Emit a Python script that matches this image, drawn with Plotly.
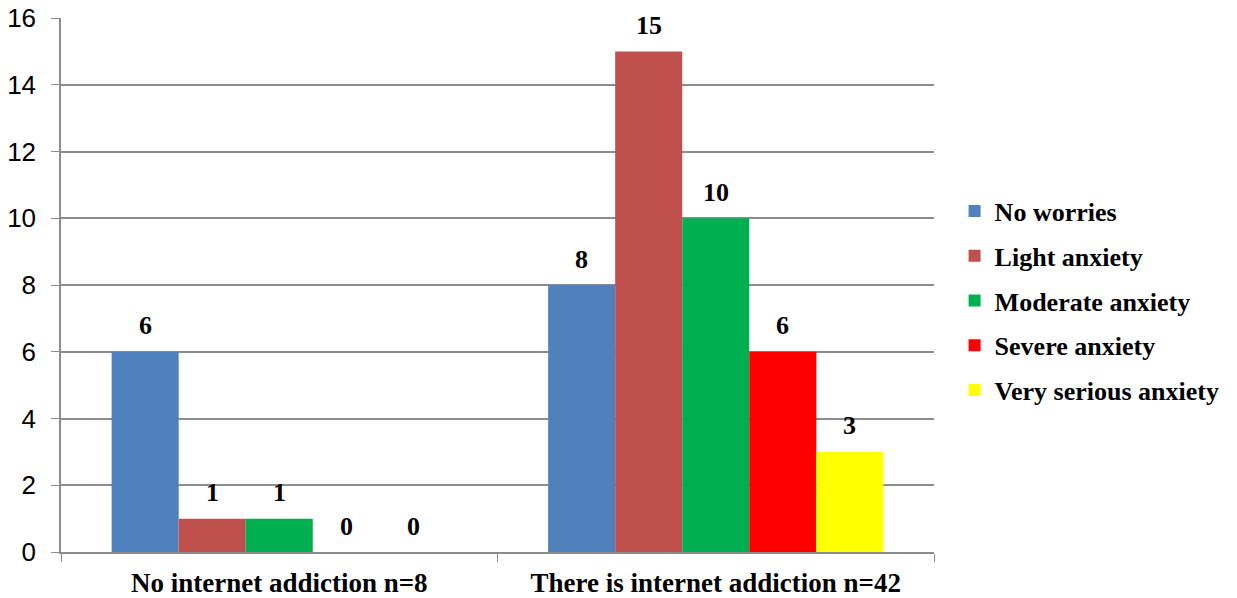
import plotly.graph_objects as go

categories = ["No internet addiction n=8", "There is internet addiction n=42"]
series_names = ["No worries", "Light anxiety", "Moderate anxiety",
                "Severe anxiety", "Very serious anxiety"]
no_worries = [6, 8]
light_anxiety = [1, 15]
moderate_anxiety = [1, 10]
severe_anxiety = [0, 6]
very_serious_anxiety = [0, 3]
colors = ["#4F81BD", "#C0504D", "#00B050", "#FF0000", "#FFFF00"]

serif = "Liberation Serif"
sans = "Liberation Sans"

bargap = 0.232
all_values = [no_worries, light_anxiety, moderate_anxiety,
              severe_anxiety, very_serious_anxiety]
n = len(all_values)
bw = (1 - bargap) / n

fig = go.Figure()
for i, (name, vals) in enumerate(zip(series_names, all_values)):
    fig.add_trace(go.Bar(
        x=categories, y=vals,
        name="<span style='font-family:Liberation Serif'><b>%s</b></span>" % name,
        marker=dict(color=colors[i], line=dict(width=0)),
        legendgroup=str(i),
    ))
    # data labels above each bar
    for j, v in enumerate(vals):
        fig.add_annotation(
            x=j + (i - (n - 1) / 2) * bw, y=v, xref="x", yref="y",
            text="<b>%d</b>" % v, showarrow=False, yshift=26,
            font=dict(family=serif, size=26, color="black"),
        )

fig.update_layout(
    font=dict(family=serif, size=26, color="black"),
    barmode="group",
    bargap=bargap,
    bargroupgap=0,
    width=1237, height=598,
    margin=dict(l=61, r=303, t=18, b=46, autoexpand=False),
    paper_bgcolor="white",
    plot_bgcolor="white",
    showlegend=True,
    legend=dict(
        x=1.0236, y=0.47, xanchor="left", yanchor="middle",
        font=dict(family="Times New Roman, Liberation Serif, serif",
                  size=26, color="black"),
        traceorder="grouped", tracegroupgap=8,
        itemwidth=30,
    ),
    yaxis=dict(
        range=[0, 16], dtick=2,
        showgrid=True, gridcolor="#8c8c8c", gridwidth=1.5,
        showline=True, linecolor="#8c8c8c", linewidth=1.5,
        ticks="outside", ticklen=8, tickcolor="#8c8c8c",
        tickfont=dict(family=sans, size=26, color="black"),
        ticklabelstandoff=10,
        zeroline=False, automargin=False,
    ),
    xaxis=dict(
        showline=True, linecolor="#8c8c8c", linewidth=1.5,
        ticks="outside", ticklen=8, tickcolor="#8c8c8c",
        tickson="boundaries",
        tickfont=dict(family=serif, size=27, color="black"),
        tickprefix="<b>", ticksuffix="</b>",
        ticklabelstandoff=6,
        automargin=False,
    ),
)

fig.write_html("out.html", config={"displayModeBar": False},
               post_script="document.body.style.margin='0px';")
